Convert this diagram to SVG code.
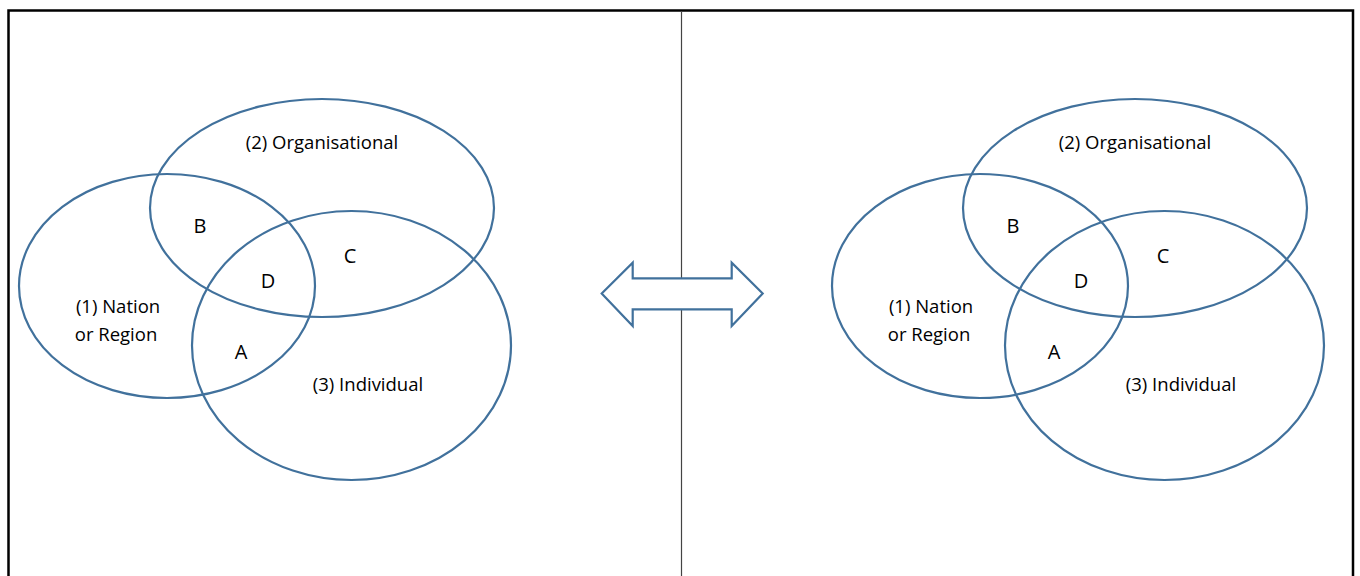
<svg xmlns="http://www.w3.org/2000/svg" width="1360" height="576" viewBox="0 0 1360 576">
<style>
.e{fill:none;stroke:#41719c;stroke-width:2.2}
.t{font-family:"Open Sans","Liberation Sans",sans-serif;font-size:18.5px;fill:#000;text-anchor:middle}
.l{font-family:"Open Sans","Liberation Sans",sans-serif;font-size:20px;fill:#000;text-anchor:middle}
</style>
<rect x="0" y="0" width="1360" height="576" fill="#fff"/>
<path d="M8.5 590 V10.5 H1353 V590" fill="none" stroke="#000" stroke-width="2.5"/>
<g id="divider"><line x1="681.5" y1="11" x2="681.5" y2="576" stroke="#444" stroke-width="1.2"/></g>
<g id="connectors">
<path id="double-arrow" d="M601.7 293.5 L632.7 262.7 V278.3 H731.7 V262.7 L762.7 293.5 L731.7 326 V309.3 H632.7 V326 Z" fill="#fff" stroke="#41719c" stroke-width="2.2" stroke-linejoin="miter"/>
</g>
<g id="left">
<g id="left-nation"><ellipse class="e" cx="167" cy="286" rx="148" ry="112"/></g>
<g id="left-org"><ellipse class="e" cx="322" cy="208" rx="172" ry="109"/></g>
<g id="left-ind"><ellipse class="e" cx="351.5" cy="345.5" rx="159.5" ry="134.5"/></g>
<text class="t" x="322" y="149">(2) Organisational</text>
<text class="t" x="118" y="313">(1) Nation</text>
<text class="t" x="116" y="341">or Region</text>
<text class="t" x="368" y="391">(3) Individual</text>
<text class="l" x="200" y="233">B</text>
<text class="l" x="350" y="263">C</text>
<text class="l" x="268" y="288">D</text>
<text class="l" x="241" y="359">A</text>
</g>
<g id="right" transform="translate(813,0)">
<g id="right-nation"><ellipse class="e" cx="167" cy="286" rx="148" ry="112"/></g>
<g id="right-org"><ellipse class="e" cx="322" cy="208" rx="172" ry="109"/></g>
<g id="right-ind"><ellipse class="e" cx="351.5" cy="345.5" rx="159.5" ry="134.5"/></g>
<text class="t" x="322" y="149">(2) Organisational</text>
<text class="t" x="118" y="313">(1) Nation</text>
<text class="t" x="116" y="341">or Region</text>
<text class="t" x="368" y="391">(3) Individual</text>
<text class="l" x="200" y="233">B</text>
<text class="l" x="350" y="263">C</text>
<text class="l" x="268" y="288">D</text>
<text class="l" x="241" y="359">A</text>
</g>
</svg>
